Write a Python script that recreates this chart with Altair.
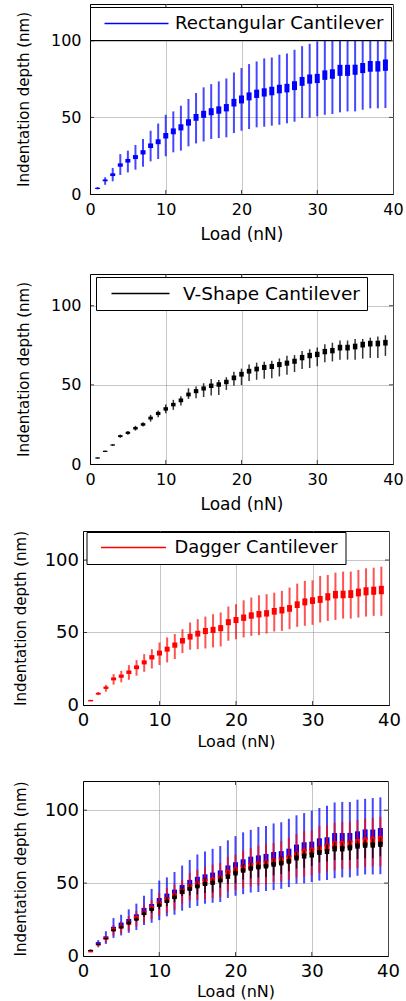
import altair as alt
import pandas as pd

FONT = "DejaVu Sans"

load = list(range(1, 40))

# Rectangular cantilever (blue)
rect_mean = [3.7, 8.9, 12.6, 18.9, 21.7, 24.1, 27.2, 31.5, 34.1, 38.0,
             40.9, 43.5, 46.7, 50.0, 52.0, 53.7, 54.8, 56.3, 59.6, 61.7,
             63.7, 65.4, 66.3, 67.2, 68.5, 69.1, 70.7, 73.5, 75.0, 75.4,
             77.6, 78.3, 80.7, 80.7, 81.1, 82.2, 83.3, 83.3, 84.1]
rect_low = [3.0, 6.0, 8.3, 12.4, 14.1, 15.9, 17.8, 21.3, 22.8, 24.6,
            27.2, 28.3, 31.1, 33.0, 34.3, 35.9, 36.5, 37.0, 39.8, 41.3,
            42.4, 43.5, 43.9, 44.6, 45.2, 46.1, 47.2, 49.6, 49.8, 50.7,
            51.7, 52.2, 53.3, 53.9, 53.9, 55.0, 55.9, 55.9, 56.1]
rect_high = [4.6, 10.9, 17.0, 26.0, 28.3, 32.0, 35.9, 41.3, 46.0, 51.7,
             53.9, 57.6, 62.0, 65.9, 69.6, 71.7, 73.5, 75.4, 79.3, 82.2,
             84.8, 86.5, 88.5, 89.1, 90.9, 91.7, 94.1, 96.5, 98.0, 99.6,
             101.5, 103.0, 105.3, 105.6, 105.6, 107.2, 107.8, 108.3, 108.8]
rect_box = [0.4, 0.6, 0.9, 1.1, 1.2, 1.3, 1.4, 1.5, 1.6, 1.8,
            1.9, 2.0, 2.1, 2.2, 2.3, 2.3, 2.4, 2.4, 2.5, 2.6,
            2.6, 2.7, 2.7, 2.8, 2.8, 2.8, 2.9, 2.9, 3.0, 3.0,
            3.1, 3.1, 3.6, 3.6, 3.3, 3.3, 3.5, 3.4, 3.7]

# V-shape cantilever (black)
vshape_mean = [3.8, 8.0, 12.0, 17.6, 19.7, 22.6, 25.0, 29.0, 31.9, 34.8,
               37.5, 40.2, 43.9, 46.0, 47.7, 49.4, 50.2, 51.8, 54.4, 56.7,
               58.6, 60.0, 61.0, 61.6, 62.8, 63.7, 64.9, 67.2, 68.5, 69.2,
               71.0, 71.6, 73.5, 73.5, 74.2, 75.4, 76.0, 76.1, 76.6]
vshape_low = [3.5, 7.6, 11.5, 16.6, 18.5, 21.1, 23.7, 26.8, 29.6, 32.1,
              34.2, 36.9, 41.1, 41.5, 42.3, 43.2, 43.6, 46.8, 49.5, 49.9,
              52.5, 53.2, 53.8, 54.2, 55.3, 56.3, 58.1, 60.0, 60.6, 61.7,
              64.2, 64.8, 65.9, 65.9, 65.9, 66.5, 67.0, 67.0, 68.3]
vshape_high = [4.1, 8.4, 12.5, 18.6, 20.9, 24.1, 26.4, 31.0, 33.8, 37.5,
               40.5, 42.8, 47.8, 49.0, 51.0, 53.7, 53.0, 54.8, 58.3, 60.2,
               62.9, 64.0, 64.6, 65.2, 66.7, 68.4, 68.8, 71.3, 72.5, 73.6,
               75.7, 76.6, 78.0, 78.0, 79.0, 79.0, 79.8, 80.5, 81.3]
vshape_box = [0.4, 0.4, 0.4, 0.6, 0.7, 0.8, 0.8, 0.9, 1.0, 1.1,
              1.1, 1.2, 1.2, 1.3, 1.3, 1.4, 1.4, 1.4, 1.5, 1.5,
              1.5, 1.5, 1.6, 1.6, 1.6, 1.6, 1.6, 1.7, 1.7, 1.7,
              1.7, 1.7, 1.8, 1.8, 1.8, 1.8, 1.8, 1.8, 1.8]

# Dagger cantilever (red)
dagger_mean = [3.0, 7.8, 11.9, 18.0, 19.9, 22.6, 26.0, 29.4, 32.9, 35.8,
               38.5, 41.3, 44.3, 47.1, 49.2, 51.0, 51.8, 53.0, 57.1, 58.6,
               60.2, 61.7, 62.6, 63.2, 64.6, 65.4, 66.6, 69.2, 71.1, 72.0,
               72.8, 74.6, 76.1, 76.2, 76.5, 77.6, 78.4, 78.8, 79.3]
dagger_low = [2.6, 6.8, 9.2, 14.0, 15.6, 17.4, 20.2, 22.9, 25.2, 27.5,
              29.4, 31.7, 35.8, 38.1, 38.5, 39.0, 39.7, 40.4, 44.3, 45.4,
              46.6, 47.7, 48.2, 49.3, 50.7, 51.1, 52.3, 53.9, 54.6, 55.3,
              56.9, 58.0, 58.7, 59.6, 59.6, 60.3, 61.0, 61.5, 61.5]
dagger_high = [3.6, 9.0, 13.8, 21.3, 23.6, 27.5, 31.0, 35.1, 38.5, 43.1,
               46.6, 48.9, 52.3, 56.9, 59.2, 61.0, 62.6, 63.8, 67.9, 69.5,
               72.2, 74.1, 75.7, 76.4, 77.5, 78.7, 81.0, 83.7, 85.6, 86.0,
               89.0, 89.7, 91.3, 92.0, 92.0, 93.1, 94.3, 94.7, 95.4]
dagger_box = [0.5, 0.6, 0.8, 1.0, 1.1, 1.2, 1.3, 1.4, 1.5, 1.7,
              1.7, 1.8, 1.9, 2.0, 2.0, 2.1, 2.1, 2.1, 2.1, 2.1,
              2.2, 2.2, 2.2, 2.2, 2.3, 2.3, 2.3, 2.3, 2.4, 2.3,
              2.4, 2.5, 2.6, 2.6, 2.7, 2.7, 2.8, 2.8, 2.9]

names = ["Rectangular Cantilever", "V-Shape Cantilever", "Dagger Cantilever"]
colors = ["#0000ff", "#000000", "#ff0000"]

x_ticks = [0, 10, 20, 30, 40]
y_ticks = [0, 50, 100]
x_inner = [10, 20, 30]
y_inner = [50, 100]


def make_df(name, mean, low, high, box):
    return pd.DataFrame({
        "load": load,
        "series": name,
        "low": low,
        "high": high,
        "box_lo": [m - b for m, b in zip(mean, box)],
        "box_hi": [m + b for m, b in zip(mean, box)],
    })


df_rect = make_df(names[0], rect_mean, rect_low, rect_high, rect_box)
df_v = make_df(names[1], vshape_mean, vshape_low, vshape_high, vshape_box)
df_dag = make_df(names[2], dagger_mean, dagger_low, dagger_high, dagger_box)

STYLE = {
    names[0]: dict(color=colors[0], lw=2, bw=5, op=0.72),
    names[1]: dict(color=colors[1], lw=1.5, bw=4.5, op=0.8),
    names[2]: dict(color=colors[2], lw=2, bw=5, op=0.68),
}


def legend_for(legendX, legendY, size, sym_off, lab_off, font_size, clip_h, color):
    return alt.Legend(
        title=None, orient="none", legendX=legendX, legendY=legendY,
        fillColor="white", strokeColor="black", padding=7, cornerRadius=0,
        symbolType="stroke", symbolSize=size, symbolStrokeWidth=1.4,
        symbolStrokeColor=color,
        symbolOffset=sym_off, symbolOpacity=1, labelOffset=lab_off,
        labelFont=FONT, labelFontSize=font_size, labelColor="black",
        labelLimit=400, clipHeight=clip_h,
    )


def panel(frames, ymax, w, h, lab_size, lab_pad, yt_size, yt_pad,
          xlab_pad, xt_pad, xt_size):
    xs = alt.Scale(domain=[0, 40], nice=False, zero=False)
    ys = alt.Scale(domain=[0, ymax], nice=False, zero=False)
    common = dict(grid=True, gridColor="#8c8c8c", gridDash=[1, 1], gridWidth=1,
                  ticks=False, domainColor="black", labelColor="black",
                  titleColor="black", labelFont=FONT, titleFont=FONT,
                  titleFontWeight="normal", labelFlush=False, labelOverlap=False)
    xax = alt.Axis(values=x_ticks, title="Load (nN)", labelFontSize=lab_size,
                   labelPadding=xlab_pad, titleFontSize=xt_size, titlePadding=xt_pad,
                   **common)
    yax = alt.Axis(values=y_ticks, title="Indentation depth (nm)",
                   labelFontSize=lab_size, labelPadding=lab_pad,
                   titleFontSize=yt_size, titlePadding=yt_pad, **common)

    def X(f):
        return alt.X(f, type="quantitative", scale=xs, axis=xax)

    def Y(f):
        return alt.Y(f, type="quantitative", scale=ys, axis=yax)

    layers = []
    for df, legend in frames:
        st = STYLE[df["series"][0]]
        if legend is not None:
            col = alt.Color("series:N",
                            scale=alt.Scale(domain=[df["series"][0]], range=[st["color"]]),
                            legend=legend)
        else:
            col = alt.value(st["color"])
        layers.append(
            alt.Chart(df).mark_rule(strokeWidth=st["lw"], opacity=st["op"]).encode(
                x=X("load"), y=Y("low"), y2=alt.Y2("high"), color=col))
        layers.append(
            alt.Chart(df).mark_rule(strokeWidth=st["bw"], strokeCap="butt").encode(
                x=X("load"), y=Y("box_lo"), y2=alt.Y2("box_hi"),
                color=alt.value(st["color"])))

    # inward tick marks on all four sides of the box
    tick = dict(color="black", thickness=1, size=4)
    txd = pd.DataFrame({"t": x_inner})
    tyd = pd.DataFrame({"t": y_inner})
    for yv, off in [(0, -2), (ymax, 2)]:
        layers.append(alt.Chart(txd).mark_tick(orient="vertical", yOffset=off, **tick).encode(
            x=X("t"), y=alt.YDatum(yv, scale=ys, axis=yax)))
    for xv, off in [(0, 2), (40, -2)]:
        layers.append(alt.Chart(tyd).mark_tick(orient="horizontal", xOffset=off, **tick).encode(
            y=Y("t"), x=alt.XDatum(xv, scale=xs, axis=xax)))

    return alt.layer(*layers).properties(width=w, height=h)


def spacer(w):
    return alt.Chart(pd.DataFrame({"v": [0]})).mark_point(size=0, opacity=0).properties(
        width=w, height=1, view=alt.ViewBackground(strokeOpacity=0, fillOpacity=0))


def indep(c):
    return c.resolve_scale(color="independent", x="independent", y="independent"
                           ).resolve_legend(color="independent")


p1 = panel([(df_rect, legend_for(0, 3, 4096, 6.5, 5.5, 18.2, 19, colors[0]))],
           124, 303, 190, 16, 9, 15, 19, 7, 9, 17)
p2 = panel([(df_v, legend_for(6, 3, 3364, 7.5, 12.5, 18.5, 19, colors[1]))],
           120, 303, 190, 16, 9, 15, 19, 7, 9, 17)
p3 = panel([(df_dag, legend_for(3.5, 1, 4225, 6.5, 7.5, 17.9, 17, colors[2]))],
           120, 306, 174, 18, 4.5, 15, 16, 6, 4, 16)
p4 = panel([(df_rect, None), (df_dag, None), (df_v, None)],
           120, 305, 175, 18, 4.5, 15, 16, 6, 3, 16)

top = indep(alt.hconcat(spacer(4), indep(alt.vconcat(p1, p2, spacing=30)), spacing=0))
bottom = indep(alt.hconcat(spacer(1), indep(alt.vconcat(p3, p4, spacing=30)), spacing=0))

chart = indep(alt.vconcat(top, bottom, spacing=16)).configure_view(
    stroke="black", strokeWidth=1
).properties(
    padding={"left": 11, "top": 3, "right": 0, "bottom": 0},
    background="white",
)

chart.save("out.html", embed_options={"renderer": "svg", "actions": False})
